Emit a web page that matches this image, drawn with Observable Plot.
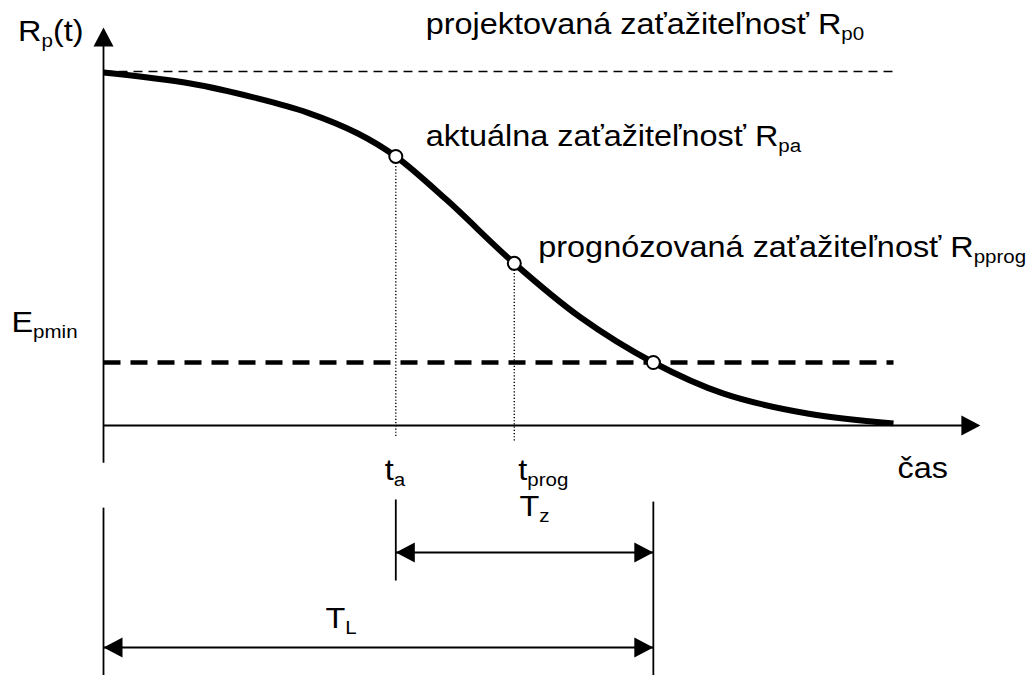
<!DOCTYPE html>
<html>
<head>
<meta charset="utf-8">
<script src="https://cdn.jsdelivr.net/npm/d3@7"></script>
<script src="https://cdn.jsdelivr.net/npm/@observablehq/plot@0.6"></script>
<style>
  html, body { margin: 0; padding: 0; background: #fff; }
  svg { display: block; }
</style>
</head>
<body>
<div id="chart"></div>
<script>
// ---- data (time t, load capacity R; R0 = 100) ----
const curveT = [0, 1.10, 1.95, 2.58, 3.22, 3.70, 4.35, 5.20, 6.04, 6.96, 7.85, 8.91, 10];
const curveR = [99.7, 96.6, 92.4, 88.4, 82.5, 76.0, 63.6, 45.8, 30.5, 17.8, 9.0, 3.4, 0.6];
const keyNames = ["ta", "tprog", "tL"];
const keyT = [3.70, 5.20, 6.96];
const keyR = [76.0, 45.8, 17.8];
const R0 = 100;
const Epmin = 17.8;
const tEnd = 10;
const labelTexts = [
  "R_{p}(t)",
  "projektovaná zaťažiteľnosť R_{p0}",
  "aktuálna zaťažiteľnosť R_{pa}",
  "prognózovaná zaťažiteľnosť R_{pprog}",
  "E_{pmin}",
  "t_{a}",
  "t_{prog}",
  "čas",
  "T_{z}",
  "T_{L}"
];

// ---- layout (data units) ----
const axisXTip = 11.1, axisYTip = 112.4, axisYBottom = -10.5;
const dottedBottom = [-3.3, -4.8];
const dimTz = -35.9, dimTL = -62.7, dimBottom = -70.6;

const curve = curveT.map((t, i) => ({t, R: curveR[i]}));
const keys = keyT.map((t, i) => ({name: keyNames[i], t, R: keyR[i]}));
const ta = keyT[0], tprog = keyT[1], tL = keyT[2];

const segs = [
  {x1: 0, y1: R0, x2: tEnd, y2: R0, w: 1.3, dash: "9,6"},
  {x1: 0, y1: Epmin, x2: tEnd, y2: Epmin, w: 4.5, dash: "17,10"},
  {x1: 0, y1: axisYBottom, x2: 0, y2: axisYTip - 3, w: 1.8, dash: null},
  {x1: 0, y1: 0, x2: axisXTip - 0.1, y2: 0, w: 1.8, dash: null},
  {x1: ta, y1: keyR[0], x2: ta, y2: dottedBottom[0], w: 1.4, dash: "1.2,2"},
  {x1: tprog, y1: keyR[1], x2: tprog, y2: dottedBottom[1], w: 1.4, dash: "1.2,2"},
  // dimension lines
  {x1: 0, y1: -23.2, x2: 0, y2: dimBottom, w: 1.8, dash: null},
  {x1: ta, y1: -20.9, x2: ta, y2: -43.8, w: 1.8, dash: null},
  {x1: tL, y1: -21.5, x2: tL, y2: dimBottom, w: 1.8, dash: null},
  {x1: ta, y1: dimTz, x2: tL, y2: dimTz, w: 2, dash: null},
  {x1: 0, y1: dimTL, x2: tL, y2: dimTL, w: 2, dash: null}
];

function tri(dir) {
  return {draw(ctx, size) {
    const r = Math.sqrt(size / Math.PI), L = 1.9 * r, W = r;
    if (dir === "right") { ctx.moveTo(0, 0); ctx.lineTo(-L, -W); ctx.lineTo(-L, W); }
    if (dir === "left")  { ctx.moveTo(0, 0); ctx.lineTo(L, -W); ctx.lineTo(L, W); }
    if (dir === "up")    { ctx.moveTo(0, 0); ctx.lineTo(-W, L); ctx.lineTo(W, L); }
    ctx.closePath();
  }};
}
const heads = [
  {x: axisXTip, y: 0, s: tri("right")},
  {x: 0, y: axisYTip, s: tri("up")},
  {x: ta, y: dimTz, s: tri("left")},
  {x: tL, y: dimTz, s: tri("right")},
  {x: 0, y: dimTL, s: tri("left")},
  {x: tL, y: dimTL, s: tri("right")}
];

const labels = [
  {text: labelTexts[0], x: 0, y: axisYTip, dx: -20, dy: 13, anchor: "end"},
  {text: labelTexts[1], x: ta, y: R0, dx: 30, dy: -38, anchor: "start"},
  {text: labelTexts[2], x: ta, y: keyR[0], dx: 30, dy: -10, anchor: "start"},
  {text: labelTexts[3], x: tprog, y: keyR[1], dx: 24, dy: -6, anchor: "start"},
  {text: labelTexts[4], x: 0, y: Epmin, dx: -92, dy: -30, anchor: "start"},
  {text: labelTexts[5], x: ta, y: 0, dx: -11, dy: 54, anchor: "start"},
  {text: labelTexts[6], x: tprog, y: 0, dx: 4, dy: 54, anchor: "start"},
  {text: labelTexts[7], x: tEnd, y: 0, dx: 4, dy: 52, anchor: "start"},
  {text: labelTexts[8], x: (ta + tL) / 2, y: dimTz, dx: -5, dy: -37, anchor: "start"},
  {text: labelTexts[9], x: tL / 2, y: dimTL, dx: -53, dy: -19, anchor: "start"}
];

const chart = Plot.plot({
  width: 1028,
  height: 675,
  marginLeft: 103,
  marginRight: 135,
  marginTop: 71,
  marginBottom: 250,
  x: {domain: [0, 10], axis: null},
  y: {domain: [0, 100], axis: null},
  style: {fontFamily: "'Liberation Sans', Arial, sans-serif", background: "#fff", color: "#000", overflow: "visible"},
  marks: [
    ...segs.map(s => Plot.link([s], {x1: "x1", y1: "y1", x2: "x2", y2: "y2", stroke: "#000", strokeWidth: s.w, strokeDasharray: s.dash || undefined})),
    Plot.line(curve, {x: "t", y: "R", curve: "catmull-rom", stroke: "#000", strokeWidth: 6, strokeLinecap: "butt"}),
    Plot.dot(keys, {x: "t", y: "R", r: 6.5, fill: "#fff", stroke: "#000", strokeWidth: 2}),
    ...heads.map(h => Plot.dot([h], {x: "x", y: "y", r: 10, symbol: h.s, fill: "#000"})),
    ...labels.map(l => Plot.text([l], {x: "x", y: "y", text: "text", dx: l.dx, dy: l.dy, textAnchor: l.anchor, lineAnchor: "bottom", fontSize: 30, fill: "#000"}))
  ]
});

// subscripts and horizontal stretch of the lettering
chart.querySelectorAll("text").forEach(el => {
  const s = el.textContent;
  const tr = el.getAttribute("transform") || "";
  el.setAttribute("transform", tr + " scale(1.08,1)");
  if (!s.includes("_{")) return;
  el.textContent = "";
  const re = /_\{([^}]*)\}/g;
  let last = 0, m, shifted = false;
  const ns = "http://www.w3.org/2000/svg";
  while ((m = re.exec(s))) {
    if (m.index > last) {
      const ts = document.createElementNS(ns, "tspan");
      ts.textContent = s.slice(last, m.index);
      if (shifted) { ts.setAttribute("dy", "-6"); shifted = false; }
      el.appendChild(ts);
    }
    const sub = document.createElementNS(ns, "tspan");
    sub.textContent = m[1];
    sub.setAttribute("font-size", "19");
    sub.setAttribute("dy", "6");
    shifted = true;
    el.appendChild(sub);
    last = re.lastIndex;
  }
  if (last < s.length) {
    const ts = document.createElementNS(ns, "tspan");
    ts.textContent = s.slice(last);
    if (shifted) ts.setAttribute("dy", "-6");
    el.appendChild(ts);
  }
});

document.getElementById("chart").appendChild(chart);
</script>
</body>
</html>
